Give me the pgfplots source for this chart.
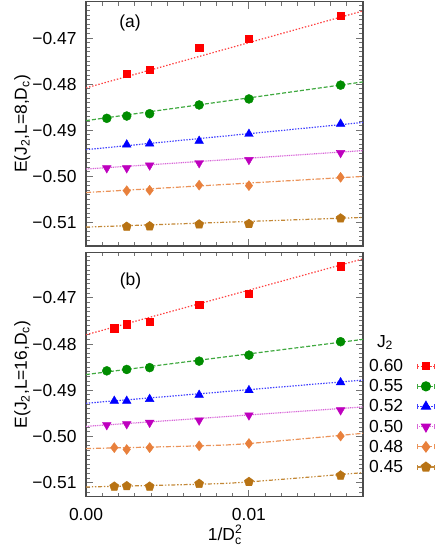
\documentclass[border=0pt]{standalone}
\usepackage{pgfplots}
\pgfplotsset{compat=1.18}
\usepackage{amsmath}
\usepackage{fontspec}
\setmainfont{Liberation Sans}

\definecolor{cred}{RGB}{255,0,0}
\definecolor{cgreen}{RGB}{0,140,0}
\definecolor{cblue}{RGB}{0,0,255}
\definecolor{cmag}{RGB}{190,0,190}
\definecolor{corange}{RGB}{232,128,60}
\definecolor{cbrown}{RGB}{184,115,20}

\newcommand{\bigfont}{\fontsize{17.5}{21}\selectfont}
\newcommand{\smallfont}{\fontsize{12.25}{13}\selectfont}

\pgfplotsset{
  panel/.style={
    width=277bp, height=244.3bp, scale only axis,
    xmin=0, xmax=0.017,
    scaled x ticks=false, scaled y ticks=false,
    xtick={0,0.01},
    minor xtick={0.001,0.002,...,0.017},
    ytick={-0.51,-0.50,-0.49,-0.48,-0.47},
    yticklabels={−0.51,−0.50,−0.49,−0.48,−0.47},
    minor ytick={-0.516,-0.515,...,-0.460},
    tick align=inside,
    major tick length=7bp, minor tick length=4bp,
    every tick/.append style={black!55, line width=0.9bp},
    every minor tick/.append style={black!55, line width=0.9bp},
    axis line style={black!70, line width=1.2bp},
    font=\bigfont,
    ticklabel style={font=\bigfont},
    xticklabel shift=8bp,
    yticklabel shift=6bp,
    ylabel style={yshift=-5bp},
    clip=true,
  },
  mred/.style={cred, mark=square*, mark size=3.6bp},
  mgreen/.style={cgreen, mark=*, mark size=4.5bp},
  mblue/.style={cblue, mark=triangle*, mark size=5bp},
  mmag/.style={cmag, mark=triangle*, mark size=5bp, mark options={rotate=180}},
  morange/.style={corange, mark=diamond*, mark size=5bp},
  mbrown/.style={cbrown, mark=pentagon*, mark size=4.8bp},
  lred/.style={cred!75, line width=1.2bp, dash pattern=on 1.4bp off 1.8bp},
  lgreen/.style={cgreen!75, line width=1.2bp, dash pattern=on 4bp off 2bp},
  lblue/.style={cblue!75, line width=1.2bp, dash pattern=on 1.4bp off 1.4bp},
  lmag/.style={cmag!60, line width=1.2bp, dash pattern=on 1bp off 0.8bp},
  lorange/.style={corange!85, line width=1.2bp, dash pattern=on 5bp off 1.8bp on 1.4bp off 1.8bp},
  lbrown/.style={cbrown!85, line width=1.2bp, dash pattern=on 4bp off 1.8bp on 1.4bp off 1.8bp on 1.4bp off 1.8bp},
}

\begin{document}
\begin{tikzpicture}
\useasboundingbox (0,0) rectangle (436bp,-557bp);

% panel (a): L=8
\begin{axis}[panel, at={(86bp,-246bp)}, anchor=south west,
  ymin=-0.5151, ymax=-0.4621,
  xticklabels={},
  ylabel={E(J$_{\text{2}}$,L=8,D$_{\text{c}}$)}]
\addplot[lred, forget plot] coordinates {(0,-0.4808) (0.017,-0.4641)};
\addplot[lgreen, forget plot] coordinates {(0,-0.4879) (0.017,-0.4795)};
\addplot[lblue, forget plot] coordinates {(0,-0.4942) (0.017,-0.4883)};
\addplot[lmag, forget plot] coordinates {(0,-0.4984) (0.017,-0.4944)};
\addplot[lorange, forget plot] coordinates {(0,-0.5035) (0.017,-0.5000)};
\addplot[lbrown, forget plot] coordinates {(0,-0.5110) (0.017,-0.5089)};

\addplot[mred, only marks, forget plot] coordinates {
 (0.0025,-0.4777) (0.003906,-0.4769) (0.006944,-0.4720) (0.01,-0.4701) (0.015625,-0.4652)};
\addplot[mgreen, only marks, forget plot] coordinates {
 (0.001276,-0.4874) (0.0025,-0.4869) (0.003906,-0.4864) (0.006944,-0.4845) (0.01,-0.4832) (0.015625,-0.4802)};
\addplot[mblue, only marks, forget plot] coordinates {
 (0.0025,-0.4931) (0.003906,-0.4929) (0.006944,-0.4923) (0.01,-0.4908) (0.015625,-0.4886)};
\addplot[mmag, only marks, forget plot] coordinates {
 (0.001276,-0.4982) (0.0025,-0.4982) (0.003906,-0.4976) (0.006944,-0.4971) (0.01,-0.4964) (0.015625,-0.4949)};
\addplot[morange, only marks, forget plot] coordinates {
 (0.0025,-0.5031) (0.003906,-0.5030) (0.006944,-0.5019) (0.01,-0.5020) (0.015625,-0.5002)};
\addplot[mbrown, only marks, forget plot] coordinates {
 (0.0025,-0.5109) (0.003906,-0.5108) (0.006944,-0.5104) (0.01,-0.5103) (0.015625,-0.5091)};
\node[font=\bigfont] at (rel axis cs:0.159,0.913) {(a)};
\end{axis}

% panel (b): L=16
\begin{axis}[panel, at={(86bp,-496.7bp)}, anchor=south west,
  ymin=-0.5130, ymax=-0.4602,
  xticklabels={0.00,0.01},
  xlabel={1/D\makebox[0pt][l]{\raisebox{7bp}{\smallfont 2}}\raisebox{-4bp}{\smallfont c}},
  xlabel style={yshift=2bp},
  ylabel={E(J$_{\text{2}}$,L=16,D$_{\text{c}}$)},
  legend style={at={(1.0217,0.563)}, anchor=north west, draw=none, fill=none,
    inner sep=0pt, nodes={inner sep=0pt}, row sep=6.5bp, column sep=13.7bp,
    font=\bigfont},
  legend cell align=right, legend plot pos=right,
  legend image code/.code={
    \draw[#1, mark=none] (0bp,0bp) -- (17bp,0bp);
    \draw[#1, solid, mark=none, line width=0.8bp] (0bp,-2.5bp) -- (0bp,2.5bp) (17bp,-2.5bp) -- (17bp,2.5bp);
    \draw[#1, solid] plot coordinates {(8.5bp,0bp)};
  }]
\addplot[lred, forget plot] coordinates {(0,-0.4780) (0.017,-0.4616)};
\addplot[lgreen, forget plot] coordinates {(0,-0.4866) (0.017,-0.4790)};
\addplot[lblue, forget plot] coordinates {(0,-0.4928) (0.017,-0.4878)};
\addplot[lmag, forget plot] coordinates {(0,-0.4978) (0.017,-0.4936)};
\addplot[lorange, smooth, forget plot] coordinates {(0,-0.5026) (0.007,-0.5020) (0.01,-0.5015) (0.017,-0.4993)};
\addplot[lbrown, smooth, forget plot] coordinates {(0,-0.5109) (0.007,-0.5103) (0.01,-0.5098) (0.017,-0.5078)};

\addplot[mred, only marks, forget plot] coordinates {
 (0.001736,-0.4766) (0.0025,-0.4757) (0.003906,-0.4751) (0.006944,-0.4715) (0.01,-0.4691) (0.015625,-0.4632)};
\addplot[mgreen, only marks, forget plot] coordinates {
 (0.001276,-0.4858) (0.0025,-0.4855) (0.003906,-0.4851) (0.006944,-0.4837) (0.01,-0.4824) (0.015625,-0.4795)};
\addplot[mblue, only marks, forget plot] coordinates {
 (0.001736,-0.4923) (0.0025,-0.4923) (0.003906,-0.4919) (0.006944,-0.4910) (0.01,-0.4900) (0.015625,-0.4883)};
\addplot[mmag, only marks, forget plot] coordinates {
 (0.001276,-0.4975) (0.0025,-0.4973) (0.003906,-0.4970) (0.006944,-0.4965) (0.01,-0.4954) (0.015625,-0.4943)};
\addplot[morange, only marks, forget plot] coordinates {
 (0.001736,-0.5024) (0.0025,-0.5028) (0.003906,-0.5024) (0.006944,-0.5020) (0.01,-0.5015) (0.015625,-0.4999)};
\addplot[mbrown, only marks, forget plot] coordinates {
 (0.001736,-0.5108) (0.0025,-0.5107) (0.003906,-0.5108) (0.006944,-0.5102) (0.01,-0.5098) (0.015625,-0.5084)};

\addlegendimage{mred, lred, mark options={solid, fill=cred, draw=cred}}
\addlegendentry{0.60}
\addlegendimage{mgreen, lgreen, mark options={solid, fill=cgreen, draw=cgreen}}
\addlegendentry{0.55}
\addlegendimage{mblue, lblue, mark options={solid, fill=cblue, draw=cblue}}
\addlegendentry{0.52}
\addlegendimage{mmag, lmag, mark options={solid, rotate=180, fill=cmag, draw=cmag}}
\addlegendentry{0.50}
\addlegendimage{morange, lorange, mark options={solid, fill=corange, draw=corange}}
\addlegendentry{0.48}
\addlegendimage{mbrown, lbrown, mark options={solid, fill=cbrown, draw=cbrown}}
\addlegendentry{0.45}

\node[font=\bigfont] at (rel axis cs:0.161,0.882) {(b)};
\end{axis}

\node[anchor=base, font=\bigfont] at (385bp,-347bp) {J$_{\text{2}}$};
\end{tikzpicture}
\end{document}
